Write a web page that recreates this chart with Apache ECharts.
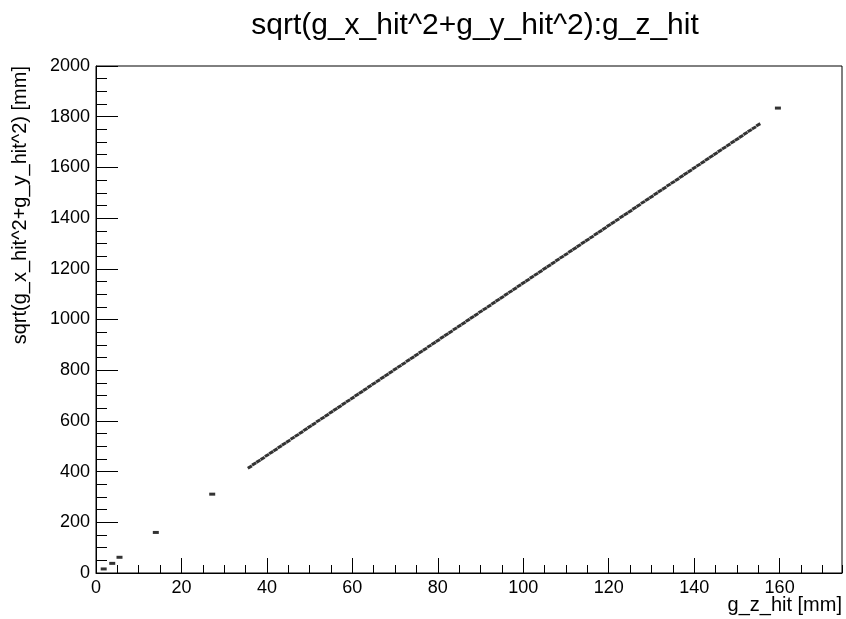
<!DOCTYPE html>
<html>
<head>
<meta charset="utf-8">
<script src="https://cdn.jsdelivr.net/npm/echarts@6/dist/echarts.min.js"></script>
<style>
html,body{margin:0;padding:0;background:#fff;}
#chart{width:846px;height:619px;}
</style>
</head>
<body>
<div id="chart"></div>
<script>
// Main band of hits: g_z_hit [mm] and sqrt(x^2+y^2) [mm]
var bandZ = [36,37,38,39,40,41,42,43,44,45,46,47,48,49,50,51,52,53,54,55,56,57,58,59,60,61,62,63,64,65,66,67,68,69,70,71,72,73,74,75,76,77,78,79,80,81,82,83,84,85,86,87,88,89,90,91,92,93,94,95,96,97,98,99,100,101,102,103,104,105,106,107,108,109,110,111,112,113,114,115,116,117,118,119,120,121,122,123,124,125,126,127,128,129,130,131,132,133,134,135,136,137,138,139,140,141,142,143,144,145,146,147,148,149,150,151,152,153,154,155];
var bandR = [418,430,441,452,464,475,486,498,509,520,532,543,554,566,577,588,600,611,622,634,645,656,668,679,690,702,713,724,736,747,758,770,781,792,804,815,826,838,849,860,872,883,895,906,917,929,940,951,963,974,985,997,1008,1019,1031,1042,1053,1065,1076,1087,1099,1110,1121,1133,1144,1155,1167,1178,1189,1201,1212,1223,1235,1246,1257,1269,1280,1291,1303,1314,1325,1337,1348,1359,1371,1382,1393,1405,1416,1427,1439,1450,1462,1473,1484,1496,1507,1518,1530,1541,1552,1564,1575,1586,1598,1609,1620,1632,1643,1654,1666,1677,1688,1700,1711,1722,1734,1745,1756,1768];
// Isolated hit clusters
var isoZ = [1.8, 3.8, 5.5, 14.0, 27.2, 159.6];
var isoR = [16, 38, 62, 160, 311, 1834];
// Axis ticks
var xMin = 0, xMax = 174.6, xMajor = 20, xMinor = 5;
var yMin = 0, yMax = 2000, yMajor = 200, yMinor = 50;

var titleText = 'sqrt(g_x_hit^2+g_y_hit^2):g_z_hit';
var xName = 'g_z_hit [mm]';
var yName = 'sqrt(g_x_hit^2+g_y_hit^2) [mm]';

var bandData = bandZ.map(function(z, i){ return [z, bandR[i]]; });
var isoData = isoZ.map(function(z, i){ return [z, isoR[i]]; });

var FONT = '"Liberation Sans", Arial, Helvetica, sans-serif';
var chart = echarts.init(document.getElementById('chart'), null, {renderer: 'canvas'});
chart.setOption({
  animation: false,
  backgroundColor: '#ffffff',
  title: {
    text: titleText,
    left: 470, top: 6, textAlign: 'center',
    textStyle: {fontFamily: FONT, fontSize: 30, fontWeight: 'normal', color: '#000'}
  },
  grid: {left: 96, right: 4, top: 66, bottom: 46, containLabel: false, outerBoundsMode: 'none',
         show: true, borderColor: '#000', borderWidth: 1, backgroundColor: '#fff'},
  xAxis: [{
    type: 'value', min: xMin, max: xMax, interval: xMajor,
    name: xName, nameLocation: 'end', nameGap: 0, nameMoveOverlap: false, nameTruncate: {maxWidth: null},
    nameTextStyle: {fontFamily: FONT, fontSize: 20, color: '#000', align: 'right', verticalAlign: 'top', padding: [22, 0, 0, 0]},
    axisLine: {show: true, onZero: false, lineStyle: {color: '#000', width: 1}},
    axisTick: {show: true, inside: true, length: 15, lineStyle: {color: '#000', width: 1}},
    axisLabel: {fontFamily: FONT, fontSize: 18, color: '#000', margin: 6, showMaxLabel: false},
    splitLine: {show: false}
  }, {
    type: 'value', min: xMin, max: xMax, interval: xMinor, position: 'bottom',
    axisLine: {show: false},
    axisTick: {show: true, inside: true, length: 8, lineStyle: {color: '#000', width: 1}},
    axisLabel: {show: false},
    splitLine: {show: false}
  }],
  yAxis: [{
    type: 'value', min: yMin, max: yMax, interval: yMajor,
    name: yName, nameLocation: 'end', nameGap: 0, nameRotate: 90, nameMoveOverlap: false,
    nameTextStyle: {fontFamily: FONT, fontSize: 20, color: '#000', align: 'right', verticalAlign: 'bottom', padding: [0, 0, 66, 0]},
    axisLine: {show: true, onZero: false, lineStyle: {color: '#000', width: 1}},
    axisTick: {show: true, inside: true, length: 22, lineStyle: {color: '#000', width: 1}},
    axisLabel: {fontFamily: FONT, fontSize: 18, color: '#000', margin: 6, formatter: function(v){ return String(v); }},
    splitLine: {show: false}
  }, {
    type: 'value', min: yMin, max: yMax, interval: yMinor, position: 'left',
    axisLine: {show: false},
    axisTick: {show: true, inside: true, length: 11, lineStyle: {color: '#000', width: 1}},
    axisLabel: {show: false},
    splitLine: {show: false}
  }],
  series: [{
    type: 'scatter', xAxisIndex: 0, yAxisIndex: 0,
    data: bandData,
    symbol: 'rect', symbolSize: [4.7, 3], symbolRotate: 30,
    itemStyle: {color: '#000'}, silent: true
  }, {
    type: 'scatter', xAxisIndex: 0, yAxisIndex: 0,
    data: isoData,
    symbol: 'rect', symbolSize: [6, 3],
    itemStyle: {color: '#000'}, silent: true
  }]
});
</script>
</body>
</html>
